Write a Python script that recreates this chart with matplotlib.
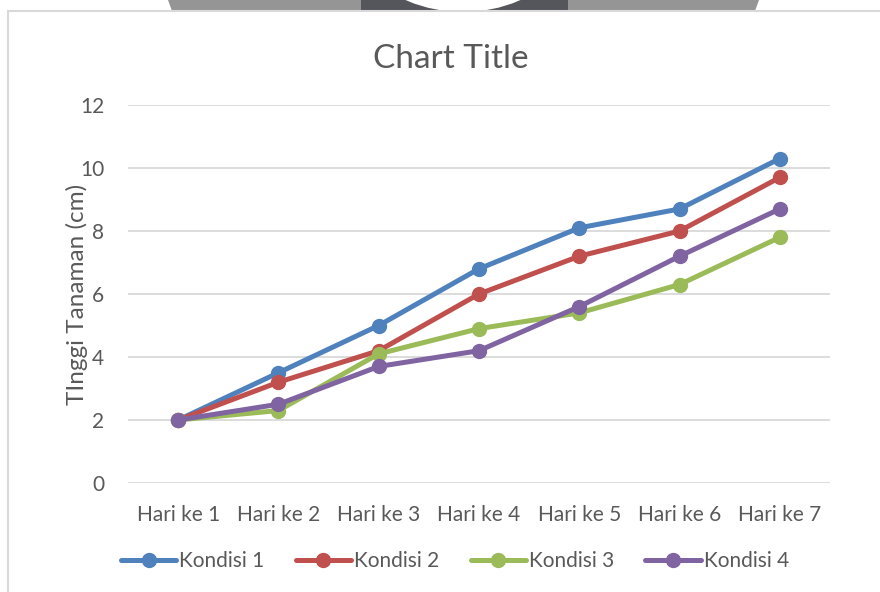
import matplotlib
matplotlib.use("Agg")
import matplotlib.pyplot as plt
from matplotlib.patches import Polygon, Rectangle, Circle

plt.rcParams["font.family"] = ["Lato", "DejaVu Sans"]

days = ["Hari ke 1", "Hari ke 2", "Hari ke 3", "Hari ke 4", "Hari ke 5", "Hari ke 6", "Hari ke 7"]
kondisi_1 = [2.0, 3.5, 5.0, 6.8, 8.1, 8.7, 10.3]
kondisi_2 = [2.0, 3.2, 4.2, 6.0, 7.2, 8.0, 9.7]
kondisi_3 = [2.0, 2.3, 4.1, 4.9, 5.4, 6.3, 7.8]
kondisi_4 = [2.0, 2.5, 3.7, 4.2, 5.6, 7.2, 8.7]
series_names = ["Kondisi 1", "Kondisi 2", "Kondisi 3", "Kondisi 4"]
colors = ["#4f81bd", "#c0504d", "#9bbb59", "#8064a2"]

W, H = 880, 592
fig = plt.figure(figsize=(W / 100, H / 100), dpi=100)

# background layer in pixel coords (chart frame + the clipped image strip at top)
bg = fig.add_axes([0, 0, 1, 1])
bg.set_xlim(0, W)
bg.set_ylim(H, 0)
bg.axis("off")
bg.add_patch(Polygon([(168, 0), (172, 11), (755, 11), (759, 0)], closed=True,
                     facecolor="#959595", edgecolor="none"))
bg.add_patch(Rectangle((361, 0), 207, 11, facecolor="#55565b", edgecolor="none"))
bg.add_patch(Circle((463, -133), 145, facecolor="white", edgecolor="none"))
bg.add_patch(Rectangle((0, 11), W, H, facecolor="white", edgecolor="none"))
bg.plot([8, 8], [11, H], color="#d9d9d9", lw=1.5)
bg.plot([8, W], [11, 11], color="#d9d9d9", lw=1.5)

ax = fig.add_axes([128 / W, (H - 483) / H, 702 / W, 378 / H])
ax.set_zorder(1)
ax.patch.set_visible(False)

x = range(len(days))
for vals, name, c in zip([kondisi_1, kondisi_2, kondisi_3, kondisi_4], series_names, colors):
    ax.plot(x, vals, color=c, lw=3.6, marker="o", markersize=10, label=name,
            solid_capstyle="round", solid_joinstyle="round", zorder=3)

ax.set_xlim(-0.5, len(days) - 0.5)
ax.set_ylim(0, 12)
ax.set_yticks(range(0, 13, 2))
ax.set_xticks(list(x))
ax.set_xticklabels(days)
ax.grid(axis="y", color="#d9d9d9", lw=1.3)
ax.set_axisbelow(True)
for s in ax.spines.values():
    s.set_visible(False)
ax.tick_params(axis="both", length=0, labelsize=15, colors="#595959")
ax.tick_params(axis="y", pad=17)
ax.tick_params(axis="x", pad=16)

fig.text(451 / W, 1 - 59 / H, "Chart Title", ha="center", va="center", fontsize=24, color="#595959")
fig.text(77 / W, 1 - 294 / H, "TInggi Tanaman (cm)", ha="center", va="center", rotation=90,
         fontsize=17.5, color="#595959")

ax.legend(loc="center", bbox_to_anchor=(455 / W, 1 - 561 / H), bbox_transform=fig.transFigure,
          ncol=4, frameon=False, fontsize=15, labelcolor="#595959", handlelength=2.65,
          handletextpad=0.15, columnspacing=1.5, markerscale=1.0)

fig.savefig("out.png", dpi=100)
